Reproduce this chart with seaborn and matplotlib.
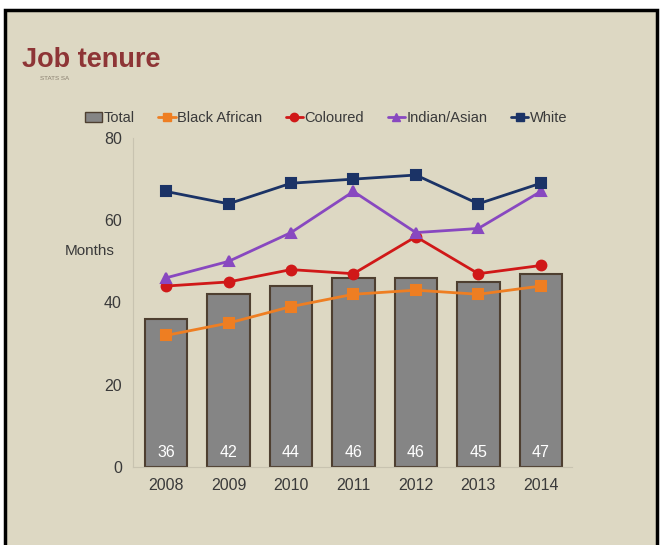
import matplotlib
matplotlib.use("Agg")
import matplotlib.pyplot as plt
from matplotlib.patches import Rectangle, Patch
from matplotlib.lines import Line2D
import seaborn as sns
import pandas as pd

# data (months)
years = ['2008', '2009', '2010', '2011', '2012', '2013', '2014']
total = [36, 42, 44, 46, 46, 45, 47]
black_african = [32, 35, 39, 42, 43, 42, 44]
coloured = [44, 45, 48, 47, 56, 47, 49]
indian_asian = [46, 50, 57, 67, 57, 58, 67]
white = [67, 64, 69, 70, 71, 64, 69]

groups = ['Black African', 'Coloured', 'Indian/Asian', 'White']
colors = {'Black African': '#EE7E22', 'Coloured': '#D01818',
          'Indian/Asian': '#8848C0', 'White': '#1B3366'}
markers = {'Black African': 's', 'Coloured': 'o', 'Indian/Asian': '^', 'White': 's'}

sns.set_style("white")
plt.rcParams['font.family'] = ['Liberation Sans', 'DejaVu Sans']

bg = '#DDD8C3'
fig = plt.figure(figsize=(6.62, 5.45), dpi=100)
fig.patch.set_facecolor('white')
fig.patches.append(Rectangle((5 / 662, -0.05), 652 / 662, 1 - 10 / 545 + 0.05,
                             transform=fig.transFigure, facecolor=bg,
                             edgecolor='black', linewidth=2.5, zorder=-10))

ax = fig.add_axes([133 / 662, 1 - 467 / 545, 439 / 662, 329 / 545])
ax.set_facecolor(bg)
ax.patch.set_alpha(0)

df_tot = pd.DataFrame({'year': years, 'total': total})
sns.barplot(data=df_tot, x='year', y='total', order=years, color='#858585',
            width=0.68, edgecolor='#4E3F30', linewidth=1.5, saturation=1, ax=ax)
for p, v in zip(ax.patches, total):
    ax.text(p.get_x() + p.get_width() / 2, 3.5, str(v), ha='center', va='center',
            color='white', fontsize=11.5)

long = pd.DataFrame({
    'year': years * 4,
    'value': black_african + coloured + indian_asian + white,
    'group': sum([[g] * len(years) for g in groups], []),
})
sns.pointplot(data=long, x='year', y='value', hue='group', order=years,
              hue_order=groups, palette=colors,
              markers=[markers[g] for g in groups], errorbar=None,
              markersize=7, linewidth=2, legend=False, ax=ax)

ax.set_ylim(0, 80)
ax.set_xlim(-0.53, 6.5)
ax.set_yticks([0, 20, 40, 60, 80])
ax.set_xlabel('')
ax.set_ylabel('')
ax.tick_params(length=0, labelsize=11.5, colors='#3A3A3A', pad=8)
for s in ['top', 'right']:
    ax.spines[s].set_visible(False)
ax.spines['left'].set_color('#C8C3B0')
ax.spines['bottom'].set_color('#C8C3B0')

fig.text(90 / 662, 1 - 251 / 545, 'Months', ha='center', va='center',
         fontsize=11, color='#3A3A3A')
fig.text(22 / 662, 1 - 60 / 545, 'Job tenure', ha='left', va='center',
         fontsize=19.5, fontweight='bold', color='#8E3536')
fig.text(40 / 662, 1 - 78 / 545, 'STATS SA', ha='left', va='center',
         fontsize=4.5, color='#8A8070')

handles = [Patch(facecolor='#858585', edgecolor='#4E3F30', label='Total')]
for g in groups:
    handles.append(Line2D([0], [0], color=colors[g], marker=markers[g],
                          markersize=6, linewidth=2, label=g))
fig.legend(handles=handles, loc='center', bbox_to_anchor=(326 / 662, 1 - 118 / 545),
           ncol=5, frameon=False, fontsize=10.5, handlelength=1.2,
           handletextpad=0.1, columnspacing=1.6, labelcolor='#3A3A3A')

fig.savefig('out.png', dpi=100, facecolor=fig.get_facecolor())
